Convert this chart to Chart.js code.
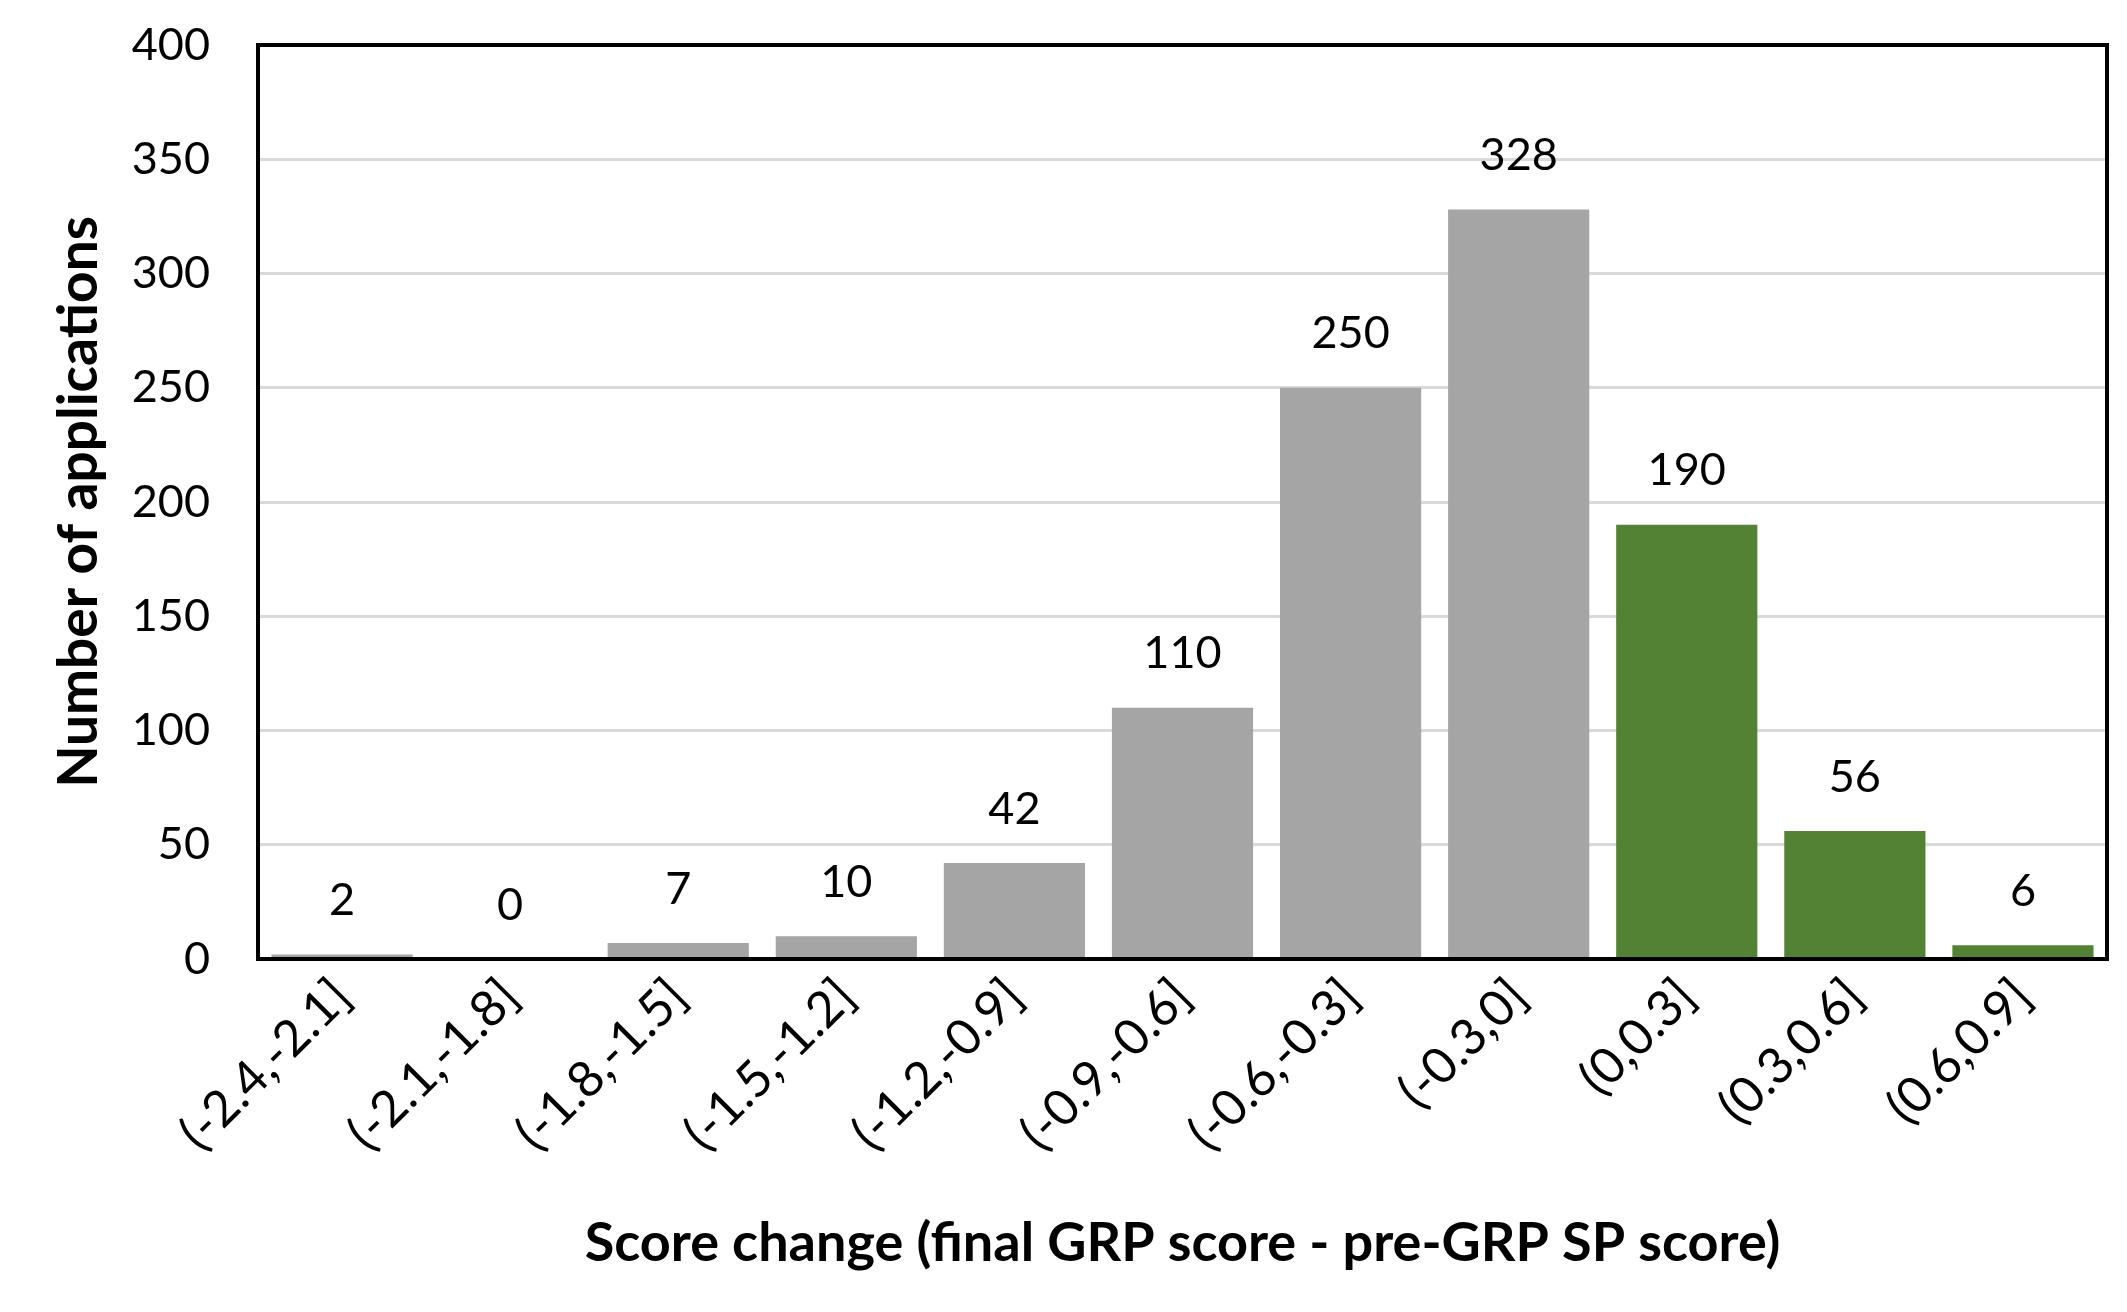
<!DOCTYPE html>
<html>
<head>
<meta charset="utf-8">
<script src="https://cdn.jsdelivr.net/npm/chart.js@4"></script>
<style>
  html, body { margin: 0; padding: 0; background: #fff; }
  #wrap { width: 2127px; height: 1312px; }
</style>
</head>
<body>
<div id="wrap"><canvas id="scoreChart"></canvas></div>
<script>
// score change bins
const categories = ['(-2.4,-2.1]', '(-2.1,-1.8]', '(-1.8,-1.5]', '(-1.5,-1.2]', '(-1.2,-0.9]',
    '(-0.9,-0.6]', '(-0.6,-0.3]', '(-0.3,0]', '(0,0.3]', '(0.3,0.6]', '(0.6,0.9]'];
const applications = [2, 0, 7, 10, 42, 110, 250, 328, 190, 56, 6];
const yTicks = [0, 50, 100, 150, 200, 250, 300, 350, 400];

const GREY = '#A5A5A5';
const GREEN = '#548235';
const FONT = 'Lato, "Open Sans", sans-serif';

// bars from this index on are score increases
const firstPositive = categories.indexOf('(0,0.3]');

// value labels above each bar
const valueLabels = {
    id: 'valueLabels',
    afterDatasetsDraw(chart) {
        const ctx = chart.ctx;
        const meta = chart.getDatasetMeta(0);
        ctx.save();
        ctx.font = '45px ' + FONT;
        ctx.fillStyle = '#000';
        ctx.textAlign = 'center';
        ctx.textBaseline = 'middle';
        meta.data.forEach((bar, i) => {
            ctx.fillText(String(applications[i]), bar.x, bar.y - 54);
        });
        ctx.restore();
    }
};

// black frame round the plot area
const plotFrame = {
    id: 'plotFrame',
    afterDraw(chart) {
        const { ctx, chartArea: a } = chart;
        ctx.save();
        ctx.strokeStyle = '#000';
        ctx.lineWidth = 4;
        ctx.strokeRect(a.left, a.top, a.right - a.left, a.bottom - a.top);
        ctx.restore();
    }
};

const ctx = document.getElementById('scoreChart').getContext('2d');
new Chart(ctx, {
    type: 'bar',
    data: {
        labels: categories,
        datasets: [{
            data: applications,
            backgroundColor: (c) => c.dataIndex >= firstPositive ? GREEN : GREY,
            barPercentage: 0.84,
            categoryPercentage: 1.0,
        }]
    },
    options: {
        responsive: true,
        maintainAspectRatio: false,
        animation: false,
        layout: { padding: { left: 0, right: 20, top: 45, bottom: 0 } },
        plugins: {
            legend: { display: false },
            tooltip: { enabled: false },
        },
        scales: {
            x: {
                grid: { display: false },
                border: { display: false },
                ticks: {
                    color: '#000',
                    font: { family: FONT, size: 50 },
                    minRotation: 45,
                    maxRotation: 45,
                    padding: 0,
                },
                title: {
                    display: true,
                    text: 'Score change (final GRP score - pre-GRP SP score)',
                    color: '#000',
                    font: { family: FONT, size: 54, weight: 'bold' },
                    padding: { top: 0, bottom: 36 },
                },
                afterFit(scale) {
                    scale.height = 1312 - 959;
                    scale.paddingTop = 0;
                },
            },
            y: {
                min: 0,
                max: 400,
                afterBuildTicks(scale) { scale.ticks = yTicks.map(v => ({ value: v })); },
                grid: { color: '#D9D9D9', lineWidth: 3, drawTicks: false },
                border: { display: false },
                ticks: {
                    color: '#000',
                    font: { family: FONT, size: 45 },
                    padding: 48,
                },
                title: {
                    display: true,
                    text: 'Number of applications',
                    color: '#000',
                    font: { family: FONT, size: 55, weight: 'bold' },
                    padding: { top: 46, bottom: 0 },
                },
                afterFit(scale) {
                    scale.width = 258;
                    scale.paddingTop = 0;
                    scale.paddingBottom = 0;
                },
            }
        }
    },
    plugins: [valueLabels, plotFrame]
});
</script>
</body>
</html>
